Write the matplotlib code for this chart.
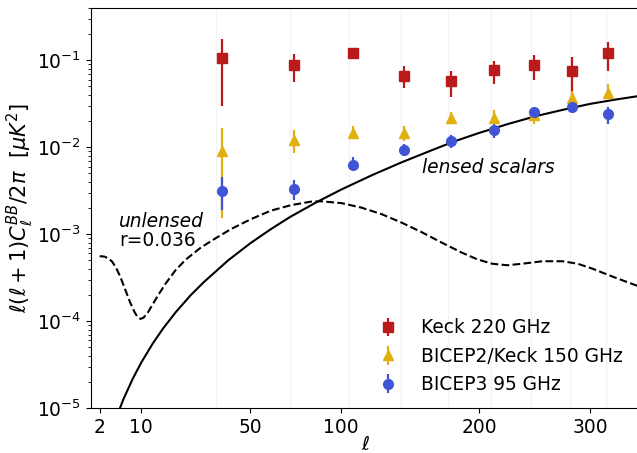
"""
BB bandpowers from BICEP/Keck with lensed and unlensed model spectra.
"""

import numpy as np
import matplotlib
matplotlib.use("Agg")
import matplotlib.pyplot as plt

# bin centers
ell = [37.5, 72.5, 107.5, 142.5, 177.5, 212.5, 247.5, 282.5, 317.5]

# Keck 220 GHz
k220 = [0.105, 0.0876, 0.121, 0.0659, 0.0573, 0.0774, 0.0876, 0.0747, 0.121]
k220_hi = [0.178, 0.119, 0.140, 0.085, 0.0753, 0.099, 0.115, 0.108, 0.164]
k220_lo = [0.0297, 0.0568, 0.103, 0.0475, 0.0378, 0.0538, 0.0593, 0.0406, 0.0753]

# BICEP2/Keck 150 GHz
bk150 = [0.0090, 0.0121, 0.0147, 0.0144, 0.0218, 0.0218, 0.0234, 0.0371, 0.0424]
bk150_hi = [0.0168, 0.0156, 0.0175, 0.0175, 0.0253, 0.0267, 0.0277, 0.0443, 0.0528]
bk150_lo = [0.00155, 0.00863, 0.0123, 0.0117, 0.0186, 0.0183, 0.0186, 0.0325, 0.0355]

# BICEP3 95 GHz
b95 = [0.00317, 0.0033, 0.00632, 0.00925, 0.0117, 0.0156, 0.0256, 0.0292, 0.0239]
b95_hi = [0.0046, 0.0042, 0.0077, 0.0108, 0.0140, 0.0183, 0.0292, 0.0331, 0.0292]
b95_lo = [0.0019, 0.0025, 0.0055, 0.0080, 0.0099, 0.0129, 0.0224, 0.0257, 0.0183]

# lensed scalars model
lens_ell = [5.0, 6.0, 8.0, 10.0, 13.0, 16.0, 20.0, 25.0, 30.0, 40.0, 50.0, 60.0, 70.0,
            85.0, 100.0, 120.0, 140.0, 160.0, 180.0, 200.0, 225.0, 250.0, 275.0, 300.0,
            325.0, 350.0]
lens_dl = [8.98e-6, 1.27e-5, 2.18e-5, 3.33e-5, 5.50e-5, 8.23e-5, 1.27e-4, 1.97e-4, 2.81e-4,
           5.01e-4, 7.87e-4, 1.14e-3, 1.57e-3, 2.33e-3, 3.26e-3, 4.78e-3, 6.66e-3, 8.90e-3,
           1.167e-2, 1.459e-2, 1.861e-2, 2.297e-2, 2.718e-2, 3.162e-2, 3.541e-2, 3.911e-2]

# unlensed tensors, r=0.036
tens_ell = [2.0, 2.62, 3.23, 3.89, 4.60, 5.36, 6.36, 7.44, 8.35, 9.06, 9.79, 10.54, 11.58,
            12.93, 14.63, 16.73, 19.90, 23.30, 28.78, 34.72, 41.10, 50.26, 60.15, 70.72,
            81.98, 87.86, 100.1, 112.9, 126.4, 140.5, 155.1, 170.4, 186.2, 198.4, 210.9,
            223.8, 236.9, 254.9, 273.4, 287.6, 302.1, 321.9, 349.4]
tens_dl = [5.58e-4, 5.53e-4, 5.29e-4, 4.82e-4, 4.06e-4, 3.24e-4, 2.29e-4, 1.62e-4, 1.28e-4,
           1.12e-4, 1.06e-4, 1.09e-4, 1.23e-4, 1.54e-4, 2.01e-4, 2.69e-4, 3.85e-4, 5.08e-4,
           6.99e-4, 8.99e-4, 1.142e-3, 1.489e-3, 1.866e-3, 2.159e-3, 2.37e-3, 2.388e-3,
           2.277e-3, 2.02e-3, 1.70e-3, 1.357e-3, 1.054e-3, 7.98e-4, 6.12e-4, 5.15e-4, 4.57e-4,
           4.39e-4, 4.57e-4, 4.88e-4, 4.88e-4, 4.57e-4, 4.00e-4, 3.24e-4, 2.48e-4]

POW = 0.6
FS = 13.4


def fwd(x):
    return np.sign(x) * np.abs(x) ** POW


def inv(x):
    return np.sign(x) * np.abs(x) ** (1.0 / POW)


def errs(val, lo, hi):
    val = np.array(val)
    return [val - np.array(lo), np.array(hi) - val]


plt.rcParams["font.family"] = "DejaVu Sans"
fig = plt.figure(figsize=(6.37, 4.53), dpi=100)
ax = fig.add_axes([91 / 637, 45 / 453, 1.004 - 91 / 637, 400 / 453])

# faint guide lines at the bin centers
ax.vlines(np.array(ell) - 2.5, 1e-5, 0.4, color="#f4f4f7", lw=1, zorder=0)

ax.plot(tens_ell, tens_dl, color="k", ls="--", lw=1.5)
ax.plot(lens_ell, lens_dl, color="k", ls="-", lw=1.5)

ax.errorbar(ell, k220, yerr=errs(k220, k220_lo, k220_hi), fmt="s", color="#bb1a1a",
            ms=7, elinewidth=1.6, label="Keck 220 GHz")
ax.errorbar(ell, bk150, yerr=errs(bk150, bk150_lo, bk150_hi), fmt="^", color="#e2b00c",
            ms=7, elinewidth=1.6, label="BICEP2/Keck 150 GHz")
ax.errorbar(ell, b95, yerr=errs(b95, b95_lo, b95_hi), fmt="o", color="#4055d6",
            ms=7, elinewidth=1.6, label="BICEP3 95 GHz")

ax.set_xscale("function", functions=(fwd, inv))
ax.set_yscale("log")
ax.set_xlim(1.0, 349)
ax.set_ylim(1e-5, 0.4)
ax.set_xticks([2, 10, 50, 100, 200, 300])
ax.set_xticklabels(["2", "10", "50", "100", "200", "300"])
ax.xaxis.set_minor_locator(matplotlib.ticker.NullLocator())
ax.tick_params(labelsize=FS)

ax.set_xlabel(r"$\ell$", fontsize=14, labelpad=-1)
ax.set_ylabel(r"$\ell(\ell+1)C_\ell^{BB}/2\pi\ \ [\mu K^2]$", fontsize=15, labelpad=1)

ax.text(5.16, 1.39e-3, "unlensed", fontsize=FS, style="italic", va="center")
ax.text(5.16, 8.4e-4, "r=0.036", fontsize=FS, va="center")
ax.text(155, 5.85e-3, "lensed scalars", fontsize=FS, style="italic", va="center")

ax.legend(loc="lower right", bbox_to_anchor=(1.0, -0.007), frameon=False, fontsize=FS,
          handletextpad=0.8)

fig.savefig("out.png", dpi=100)
